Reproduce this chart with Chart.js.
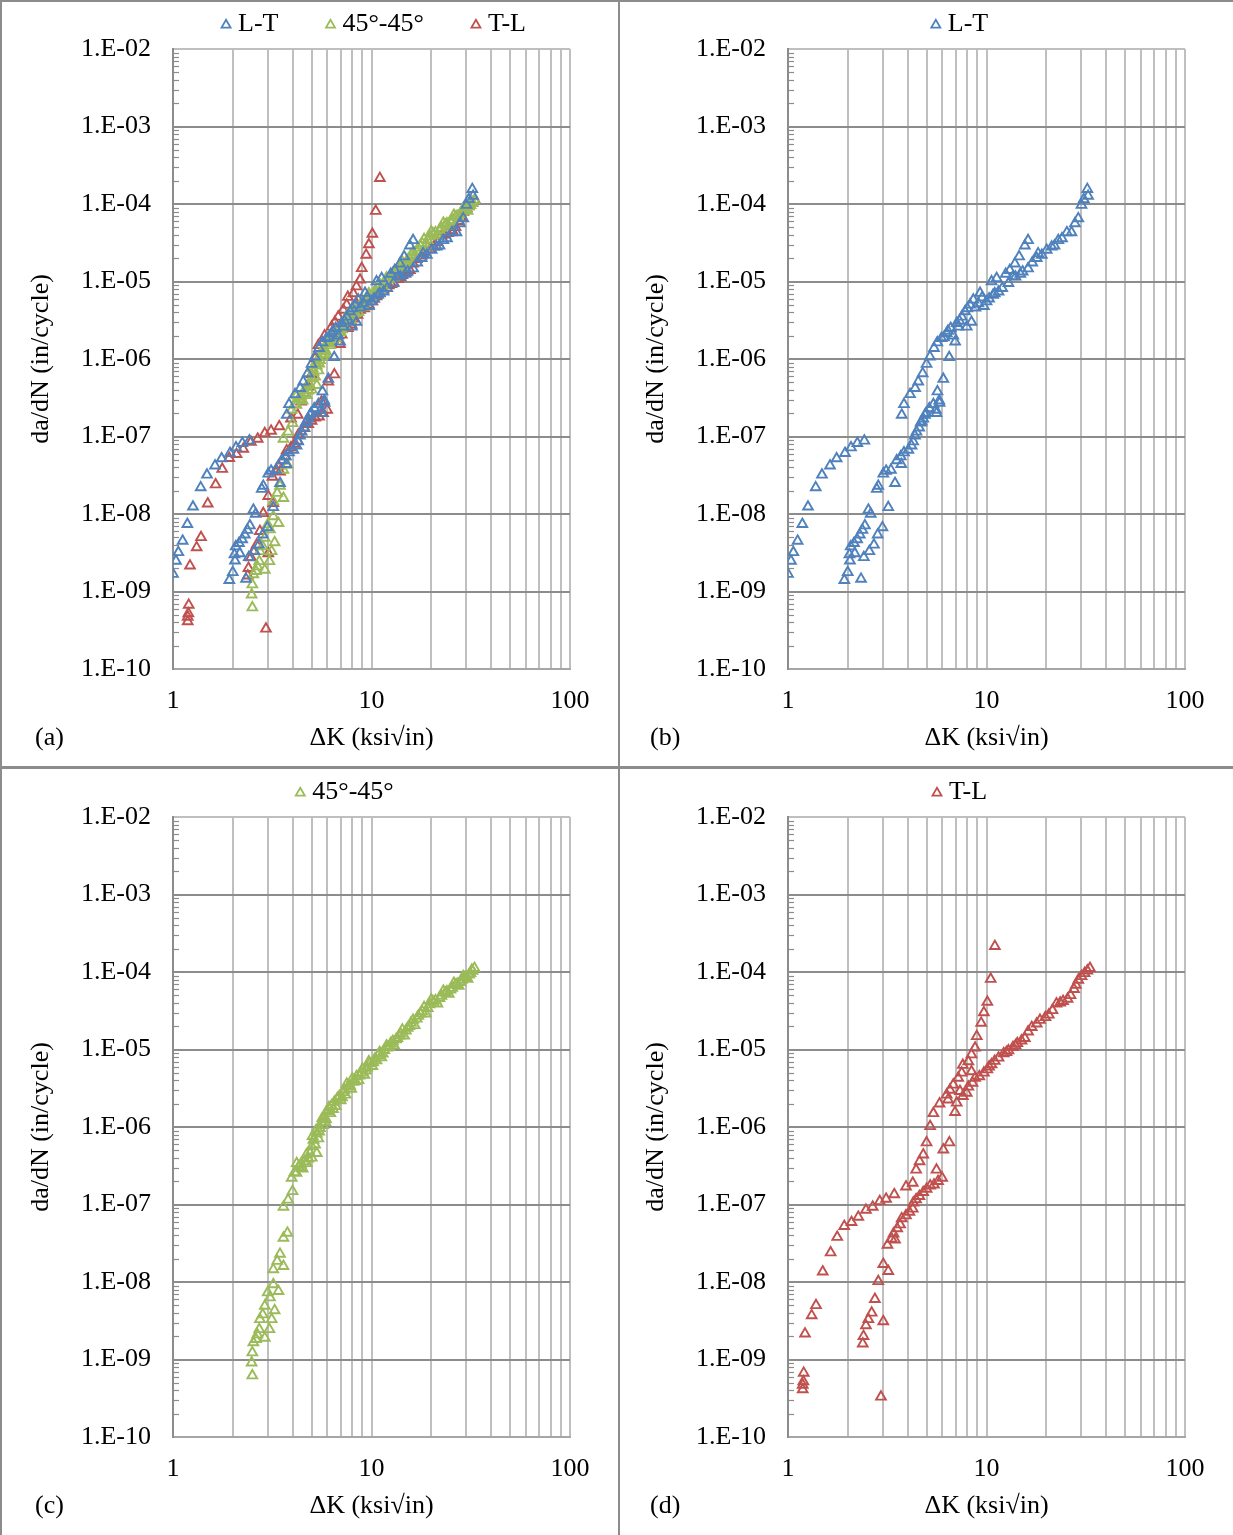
<!DOCTYPE html>
<html>
<head>
<meta charset="utf-8">
<script src="https://cdn.jsdelivr.net/npm/chart.js@4.4.0/dist/chart.umd.min.js"></script>
<style>
  html, body { margin: 0; padding: 0; background: #fff; }
  #sheet { position: relative; width: 1233px; height: 1535px; overflow: hidden; background: #fff; }
  #sheet canvas { position: absolute; }
  .rule { position: absolute; background: #8c8c8c; }
</style>
</head>
<body>
<div id="sheet">
  <canvas id="chart-a" width="616" height="767" style="left:0px;top:0px"></canvas>
  <canvas id="chart-b" width="616" height="767" style="left:615px;top:0px"></canvas>
  <canvas id="chart-c" width="616" height="767" style="left:0px;top:768px"></canvas>
  <canvas id="chart-d" width="616" height="767" style="left:615px;top:768px"></canvas>
  <div class="rule" style="left:0;top:0;width:1233px;height:2px"></div>
  <div class="rule" style="left:0;top:0;width:2px;height:1535px"></div>
  <div class="rule" style="left:618px;top:0;width:2px;height:1535px"></div>
  <div class="rule" style="left:0;top:766px;width:1233px;height:3px"></div>
</div>
<script>
// axis ticks
const xTicks = [1, 2, 3, 4, 5, 6, 7, 8, 9, 10, 20, 30, 40, 50, 60, 70, 80, 90, 100];
const xLabels = [1, 10, 100];
const yTicks = [1e-10, 1e-9, 1e-8, 1e-7, 1e-6, 1e-5, 1e-4, 1e-3, 1e-2];

// L-T : delta K (ksi sqrt in) and da/dN (in/cycle)
const ltK = [1.00, 1.035, 1.064, 1.118, 1.181, 1.261, 1.379, 1.483, 1.628, 1.758, 1.937, 2.077, 2.235, 2.424,
  1.922, 2.00, 2.333, 2.052, 2.04, 2.07, 2.15, 2.23, 2.30, 2.37, 2.44, 2.54, 2.61, 2.17, 2.41, 2.57, 2.71, 2.83, 2.99, 3.20,
  2.80, 2.85, 3.02, 3.12, 3.30, 3.46, 3.53, 3.72, 3.70, 3.84, 4.04, 4.19, 4.27, 4.36, 4.44, 4.58, 4.66, 4.80, 4.96, 5.15,
  5.40, 5.60, 5.80, 4.71, 4.90, 5.56, 5.78, 5.66, 6.06, 6.49,
  3.74, 3.84, 4.12, 4.37, 4.53, 4.77, 4.99, 5.19, 5.44, 5.65, 5.93, 6.10, 6.30, 6.40, 6.60, 6.80, 6.95, 7.08, 7.20, 7.30,
  7.50, 7.80, 7.95, 8.00, 8.26, 8.40, 8.58, 8.80, 9.10, 9.28, 9.50, 9.70, 10.0, 10.3, 10.6, 10.8, 11.0, 11.25, 11.5, 12.0,
  12.5, 12.9, 13.1, 13.6, 13.9, 14.0, 14.6, 14.8, 15.2, 15.6, 16.2, 16.2, 17.0, 17.9, 18.2, 19.0, 20.1, 21.3, 22.0, 23.0,
  24.0, 25.4, 26.8, 27.9, 29.0, 30.1, 30.9, 32.5, 32.2];
const ltRate = [1.68e-9, 2.48e-9, 3.2e-9, 4.5e-9, 7.4e-9, 1.24e-8, 2.2e-8, 3.2e-8, 4.2e-8, 5.2e-8, 6.1e-8, 7.2e-8, 8.2e-8, 8.8e-8,
  1.4e-9, 1.77e-9, 1.45e-9, 2.5e-9, 3.0e-9, 3.8e-9, 4.2e-9, 4.7e-9, 5.4e-9, 6.2e-9, 7.1e-9, 1.13e-8, 1.0e-8, 3.1e-9, 2.76e-9, 3.3e-9, 4.0e-9, 5.4e-9, 6.7e-9, 1.22e-8,
  2.1e-8, 2.3e-8, 3.3e-8, 3.6e-8, 3.7e-8, 2.5e-8, 4.9e-8, 4.4e-8, 5.5e-8, 6.2e-8, 6.7e-8, 7.6e-8, 8.6e-8, 1.02e-7, 1.15e-7, 1.3e-7, 1.5e-7, 1.7e-7, 2.0e-7, 2.3e-7,
  2.6e-7, 2.0e-7, 2.7e-7, 1.55e-7, 1.9e-7, 2.2e-7, 2.9e-7, 3.8e-7, 5.5e-7, 1.05e-6,
  1.9e-7, 2.6e-7, 3.5e-7, 4.2e-7, 5.1e-7, 6.5e-7, 8.6e-7, 1.07e-6, 1.38e-6, 1.63e-6, 1.85e-6, 1.9e-6, 2.15e-6, 2.3e-6, 2.5e-6, 2.0e-6, 1.67e-6, 2.9e-6, 2.6e-6, 3.1e-6,
  3.5e-6, 4.1e-6, 2.6e-6, 4.5e-6, 5.0e-6, 3.0e-6, 5.8e-6, 4.6e-6, 5.2e-6, 7.1e-6, 6.2e-6, 4.8e-6, 5.5e-6, 6.0e-6, 1.0e-5, 6.7e-6, 7.0e-6, 1.1e-5, 7.4e-6, 8.2e-6,
  1.25e-5, 9.5e-6, 1.4e-5, 1.16e-5, 1.7e-5, 1.15e-5, 2.1e-5, 1.25e-5, 1.34e-5, 2.9e-5, 3.4e-5, 1.47e-5, 1.75e-5, 2.0e-5, 2.3e-5, 2.2e-5, 2.55e-5, 2.8e-5, 2.9e-5, 3.4e-5,
  3.6e-5, 4.3e-5, 4.3e-5, 5.6e-5, 6.5e-5, 9.7e-5, 1.15e-4, 1.27e-4, 1.55e-4];

// 45°-45°
const ddK = [2.51, 2.49, 2.51, 2.54, 2.62, 2.66, 2.72, 2.74, 2.83, 2.90, 2.90, 3.06, 3.14, 3.25, 3.00, 3.08, 3.20, 3.40,
  3.20, 3.35, 3.46, 3.60, 3.60, 3.77, 3.60, 3.80, 4.00, 3.96, 4.19, 4.45, 4.72, 5.00, 5.30,
  4.1, 4.3, 4.5, 4.6, 4.8, 4.9, 5.0, 5.1, 5.2, 5.3, 5.4, 5.5, 5.6, 5.7, 5.8, 5.9, 6.0, 6.2, 6.3, 6.5,
  6.6, 6.8, 7.0, 7.2, 7.4, 7.6, 7.9, 8.1, 8.4, 8.6, 8.9, 9.2, 9.5, 9.8, 10.1, 10.4, 10.8, 11.2, 11.6, 12.0,
  12.5, 13.0, 13.5, 14.0, 14.6, 15.2, 15.8, 16.5, 17.2, 18.0, 18.8, 19.6, 20.5, 21.5, 22.5, 23.5, 24.5, 25.5, 26.5, 27.5,
  28.5, 29.5, 30.5, 31.5, 32.3, 33.0,
  4.2, 4.4, 4.7, 5.05, 5.25, 5.45, 5.65, 5.85, 6.1, 6.4, 6.7, 6.9, 7.1, 7.3, 7.5, 7.8, 8.0, 8.3, 8.7, 9.0,
  9.4, 9.7, 10.2, 10.6, 11.0, 11.4, 11.9, 12.3, 12.8, 13.3, 13.8, 14.3, 14.9, 15.5, 16.2, 16.9, 17.6, 18.4, 19.2, 20.0,
  21.0, 22.0, 23.0, 24.0, 25.0, 26.0, 27.0, 28.0, 29.0, 30.0, 31.0, 32.0];
const ddRate = [6.2e-10, 9.1e-10, 1.23e-9, 1.66e-9, 1.83e-9, 2.1e-9, 2.45e-9, 3.3e-9, 3.8e-9, 4.9e-9, 1.9e-9, 2.45e-9, 3.3e-9, 4.3e-9, 7.3e-9, 6.3e-9, 9.3e-9, 7.6e-9,
  1.45e-8, 1.86e-8, 2.3e-8, 1.6e-8, 3.7e-8, 4.3e-8, 9.3e-8, 1.15e-7, 1.48e-7, 2.2e-7, 2.55e-7, 2.95e-7, 3.4e-7, 4.0e-7, 4.6e-7,
  2.6e-7, 3.1e-7, 2.9e-7, 3.6e-7, 3.9e-7, 4.6e-7, 5.6e-7, 6.8e-7, 5.9e-7, 8.2e-7, 7.1e-7, 9.6e-7, 1.15e-6, 1.05e-6, 1.35e-6, 1.25e-6, 1.6e-6, 1.5e-6, 1.9e-6, 2.1e-6,
  1.85e-6, 2.4e-6, 2.2e-6, 2.8e-6, 2.6e-6, 3.3e-6, 3.1e-6, 3.8e-6, 4.5e-6, 4.0e-6, 5.0e-6, 4.7e-6, 5.8e-6, 6.6e-6, 6.1e-6, 7.6e-6, 8.4e-6, 7.9e-6, 9.8e-6, 1.05e-5,
  1.2e-5, 1.13e-5, 1.4e-5, 1.6e-5, 1.5e-5, 1.9e-5, 2.2e-5, 2.05e-5, 2.7e-5, 3.1e-5, 2.9e-5, 3.8e-5, 4.1e-5, 3.9e-5, 4.9e-5, 5.4e-5, 5.2e-5, 6.2e-5, 6.8e-5, 6.6e-5,
  7.9e-5, 8.5e-5, 8.1e-5, 9.6e-5, 1.03e-4, 1.12e-4,
  3.4e-7, 3.3e-7, 4.4e-7, 7.6e-7, 9.0e-7, 8.7e-7, 1.3e-6, 1.15e-6, 1.8e-6, 1.7e-6, 2.3e-6, 2.5e-6, 2.4e-6, 3.0e-6, 3.6e-6, 3.4e-6, 4.2e-6, 3.9e-6, 4.6e-6, 5.6e-6,
  5.3e-6, 7.0e-6, 6.8e-6, 7.2e-6, 9.2e-6, 8.8e-6, 1.12e-5, 1.08e-5, 1.28e-5, 1.35e-5, 1.5e-5, 1.8e-5, 1.75e-5, 2.0e-5, 2.4e-5, 2.5e-5, 2.9e-5, 3.5e-5, 3.4e-5, 4.4e-5,
  4.3e-5, 4.6e-5, 5.7e-5, 5.6e-5, 5.9e-5, 7.2e-5, 7.0e-5, 7.4e-5, 8.8e-5, 8.6e-5, 9.2e-5, 1.06e-4];

// T-L
const tlK = [1.186, 1.186, 1.195, 1.20, 1.218, 1.316, 1.384, 1.496, 1.64, 1.77, 1.92, 2.09, 2.26, 2.47, 2.67, 2.90, 3.12, 3.43,
  3.93, 4.25, 4.42, 4.60, 4.80, 4.99, 5.20, 5.40, 5.80, 6.30, 6.54, 6.80, 7.20, 7.50, 7.60, 8.10, 8.40, 8.76, 8.93, 9.40, 9.70, 10.1, 10.5, 11.02,
  2.94, 2.38, 2.40, 2.47, 2.54, 2.64, 2.74, 3.02, 2.85, 3.02, 3.20, 3.17, 3.33, 3.46, 3.40, 3.55, 3.67, 3.74, 3.93, 4.09,
  4.25, 4.28, 4.42, 4.59, 4.80, 4.99, 5.20, 5.44, 5.70, 5.98, 5.60, 6.06,
  6.50, 6.94, 7.08, 6.40, 7.35, 7.60, 7.95, 8.10, 8.50, 8.40, 8.76, 9.20, 9.70, 10.1, 10.6, 11.0, 11.5, 12.2, 12.9, 13.6,
  14.3, 15.6, 16.2, 16.9, 17.9, 18.6, 19.8, 20.6, 22.5, 24.3, 25.6, 27.6, 29.0, 30.1, 31.2, 33.2,
  10.3, 12.6, 14.0, 15.0, 21.5, 23.5, 26.5, 28.2, 32.2];
const tlRate = [4.1e-10, 4.7e-10, 5.2e-10, 6.7e-10, 2.15e-9, 3.7e-9, 5.0e-9, 1.36e-8, 2.4e-8, 3.8e-8, 5.25e-8, 5.9e-8, 6.9e-8, 8.5e-8, 9.3e-8, 1.1e-7, 1.18e-7, 1.35e-7,
  1.7e-7, 1.9e-7, 2.8e-7, 3.6e-7, 4.4e-7, 6.3e-7, 1.02e-6, 1.5e-6, 2.0e-6, 2.6e-6, 3.0e-6, 3.5e-6, 4.3e-6, 5.0e-6, 6.3e-6, 7.0e-6, 8.6e-6, 1.05e-5, 1.48e-5, 2.2e-5, 3.0e-5, 4.1e-5, 8.1e-5, 2.15e-4,
  3.3e-10, 1.6e-9, 2.0e-9, 2.75e-9, 3.3e-9, 4.0e-9, 6.0e-9, 3.1e-9, 1.02e-8, 1.7e-8, 1.38e-8, 3.0e-8, 3.6e-8, 3.5e-8, 4.2e-8, 4.9e-8, 5.5e-8, 6.6e-8, 7.2e-8, 8.0e-8,
  8.8e-8, 1.05e-7, 1.16e-7, 1.28e-7, 1.44e-7, 1.59e-7, 1.75e-7, 1.8e-7, 2.0e-7, 2.2e-7, 2.8e-7, 5.1e-7,
  6.3e-7, 1.55e-6, 2.05e-6, 2.25e-6, 2.9e-6, 2.5e-6, 2.75e-6, 3.3e-6, 3.7e-6, 5.2e-6, 4.3e-6, 4.5e-6, 5.0e-6, 5.5e-6, 6.4e-6, 7.1e-6, 7.8e-6, 8.9e-6, 9.7e-6, 1.07e-5,
  1.2e-5, 1.4e-5, 1.7e-5, 1.94e-5, 2.15e-5, 2.4e-5, 2.6e-5, 2.8e-5, 3.9e-5, 4.2e-5, 4.5e-5, 6.0e-5, 7.9e-5, 8.8e-5, 9.6e-5, 1.12e-4,
  6.0e-6, 9.2e-6, 1.13e-5, 1.3e-5, 3.2e-5, 4.0e-5, 5.0e-5, 6.8e-5, 1.04e-4];

const LT = { name: "L-T", k: ltK, rate: ltRate, color: "#4F81BD" };
const DD = { name: "45°-45°", k: ddK, rate: ddRate, color: "#9BBB59" };
const TL = { name: "T-L", k: tlK, rate: tlRate, color: "#C0504D" };

const FONT = '"Liberation Serif", "Times New Roman", serif';
Chart.defaults.font.family = FONT;
Chart.defaults.font.size = 26;
Chart.defaults.font.lineHeight = 1.2;
Chart.defaults.color = "#000";

function triangle(ctx, x, y, r) {
  ctx.beginPath();
  ctx.moveTo(x, y - r);
  ctx.lineTo(x + r * 0.866, y + r / 2);
  ctx.lineTo(x - r * 0.866, y + r / 2);
  ctx.closePath();
  ctx.stroke();
}

// minor ticks on the y axis, legend and panel letter
const panelDecor = {
  id: "panelDecor",
  beforeDatasetsDraw(chart) {
    const { ctx, chartArea, scales } = chart;
    ctx.save();
    ctx.strokeStyle = "#8C8C8C";
    ctx.lineWidth = 1.2;
    for (let d = -10; d < -2; d++) {
      for (let m = 2; m <= 9; m++) {
        const y = Math.round(scales.y.getPixelForValue(m * Math.pow(10, d))) + 0.5;
        ctx.beginPath();
        ctx.moveTo(chartArea.left, y);
        ctx.lineTo(chartArea.left + 6, y);
        ctx.stroke();
      }
    }
    ctx.restore();
  },
  afterDraw(chart, args, opts) {
    const { ctx } = chart;
    ctx.save();
    ctx.font = "26px " + FONT;
    ctx.textBaseline = "middle";
    ctx.fillStyle = "#000";
    const items = chart.data.datasets.map((ds) => ({
      text: ds.label, color: ds.borderColor, w: 16 + ctx.measureText(ds.label).width,
    }));
    const gap = 48;
    const total = items.reduce((s, it) => s + it.w, 0) + gap * (items.length - 1);
    let x = opts.legendCenter - total / 2;
    items.forEach((it) => {
      ctx.strokeStyle = it.color;
      ctx.lineWidth = 1.8;
      triangle(ctx, x + 4, 25, 5.2);
      ctx.fillText(it.text, x + 16, 24);
      x += it.w + gap;
    });
    ctx.textAlign = "left";
    ctx.fillText(opts.label, 35, 738);
    ctx.restore();
  },
};

function makePanel(id, label, series, legendCenter) {
  const ctx = document.getElementById(id).getContext("2d");
  return new Chart(ctx, {
    type: "scatter",
    data: {
      datasets: series.map((s) => ({
        label: s.name,
        data: s.k.map((k, i) => ({ x: k, y: s.rate[i] })),
        pointStyle: "triangle",
        radius: 5.6,
        borderWidth: 1.9,
        borderColor: s.color,
        backgroundColor: "rgba(0,0,0,0)",
      })),
    },
    options: {
      responsive: false,
      animation: false,
      events: [],
      layout: { padding: { left: 0, top: 49, right: 46, bottom: 0 } },
      plugins: {
        legend: { display: false },
        tooltip: { enabled: false },
        panelDecor: { label: label, legendCenter: legendCenter },
      },
      scales: {
        x: {
          type: "logarithmic",
          min: 1,
          max: 100,
          afterBuildTicks: (scale) => { scale.ticks = xTicks.map((v) => ({ value: v })); },
          afterFit: (scale) => { scale.height = 98; },
          ticks: {
            autoSkip: false,
            maxRotation: 0,
            padding: 17,
            callback: (v) => (xLabels.indexOf(v) >= 0 ? String(v) : ""),
          },
          grid: { color: "#BFBFBF", lineWidth: 2, drawTicks: false },
          border: { color: "#A6A6A6", width: 2 },
          title: { display: true, text: "ΔK (ksi√in)", padding: { top: 0, bottom: 13 } },
        },
        y: {
          type: "logarithmic",
          min: 1e-10,
          max: 1e-2,
          afterBuildTicks: (scale) => { scale.ticks = yTicks.map((v) => ({ value: v })); },
          afterFit: (scale) => { scale.width = 173; },
          ticks: {
            autoSkip: false,
            padding: 22,
            callback: (v) => "1.E-" + String(Math.round(-Math.log10(v))).padStart(2, "0"),
          },
          grid: {
            color: (c) => (c.index === yTicks.length - 1 ? "#BFBFBF" : "#8C8C8C"),
            lineWidth: 2,
            drawTicks: false,
          },
          border: { color: "#8C8C8C", width: 2 },
          title: { display: true, text: "da/dN (in/cycle)", padding: { top: 26, bottom: 0 } },
        },
      },
    },
    plugins: [panelDecor],
  });
}

makePanel("chart-a", "(a)", [LT, DD, TL], 374);
makePanel("chart-b", "(b)", [LT], 345);
makePanel("chart-c", "(c)", [DD], 345);
makePanel("chart-d", "(d)", [TL], 345);
</script>
</body>
</html>
